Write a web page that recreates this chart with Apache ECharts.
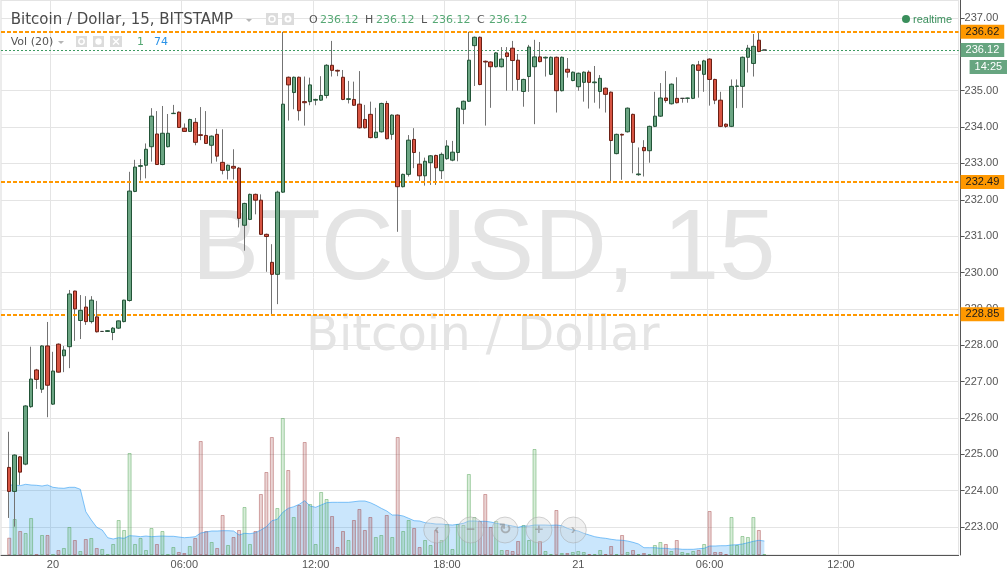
<!DOCTYPE html>
<html><head><meta charset="utf-8">
<script src="https://cdn.jsdelivr.net/npm/echarts@6/dist/echarts.min.js"></script>
<style>html,body{margin:0;padding:0;background:#fff}#c{width:1007px;height:574px}</style>
</head><body><div id="c"></div>
<script>
// 15-minute bars, offsets counted from 20th 00:00
const firstBar = -8;
const axisStart = -9, axisEnd = 165;
const tickBars = [0, 24, 48, 72, 96, 120, 144];
const tickLabels = ['20', '06:00', '12:00', '18:00', '21', '06:00', '12:00'];

const opens = [224.64,223.98,224.93,224.73,226.31,227.32,226.79,227.98,226.38,228.03,
227.71,227.96,229.49,228.68,229.05,228.65,228.78,228.38,228.38,228.35,
228.47,228.65,229.23,232.23,232.92,232.95,233.46,233.81,232.97,233.46,
234.37,234.41,233.97,233.88,234.13,233.79,233.77,233.50,233.80,233.03,
232.81,232.92,232.87,231.30,231.46,232.15,231.99,231.05,230.28,229.95,
232.21,235.37,234.95,235.37,234.70,234.70,234.74,234.74,234.87,235.70,
235.56,235.37,234.76,234.76,234.63,234.21,234.35,233.71,233.87,234.65,
233.80,234.33,232.36,232.70,233.66,232.98,232.66,233.02,233.22,232.80,
233.13,233.09,233.30,234.49,234.71,236.24,236.47,235.81,235.79,235.66,
235.66,236.04,236.17,235.84,234.98,235.39,235.66,235.93,235.90,235.45,
235.92,235.00,235.59,235.28,235.11,235.23,235.51,235.22,234.98,235.07,
234.96,233.27,233.80,233.87,234.35,232.69,233.44,233.35,234.02,234.30,
234.80,234.64,234.79,234.79,234.79,234.79,235.71,235.45,235.87,235.31,
234.74,234.08,234.02,235.12,235.12,235.92,235.75,236.39,236.12];
const highs = [225.62,225.00,224.95,226.35,227.96,227.35,228.00,228.64,227.82,228.05,
227.98,229.52,229.50,229.38,229.35,229.35,229.22,228.39,228.41,228.50,
228.68,229.25,232.77,233.10,233.12,233.55,234.52,234.44,234.58,234.36,
234.61,234.43,234.10,234.23,234.25,234.55,234.44,233.77,233.95,233.94,
232.97,233.39,232.90,231.92,232.17,232.17,232.15,231.07,230.78,232.25,
236.62,235.39,235.39,235.39,235.39,235.36,234.78,235.40,235.73,236.37,
235.58,235.57,235.27,235.25,235.54,234.61,234.70,234.53,234.67,234.72,
234.35,234.35,232.72,233.78,233.97,233.32,233.16,233.23,233.24,233.30,
233.64,233.62,234.54,234.73,236.62,236.49,236.49,235.83,235.81,236.06,
236.20,236.20,236.37,236.01,235.33,236.26,236.40,236.34,235.94,235.94,
235.94,235.94,235.90,235.53,235.50,235.53,235.56,235.68,235.43,235.09,
234.98,233.82,233.82,234.54,234.37,233.44,233.64,234.04,234.97,235.21,
235.54,235.20,235.37,234.80,234.81,235.73,235.82,235.85,235.89,235.33,
234.97,234.10,235.31,235.31,235.94,236.26,236.56,236.62,236.12];
const lows = [223.25,223.01,224.16,224.70,226.28,226.80,226.69,226.02,226.36,227.25,
227.26,227.37,228.12,228.17,228.56,228.60,228.35,228.37,228.37,228.14,
228.45,228.63,229.20,232.21,232.53,232.59,233.05,232.96,232.95,233.44,
234.36,233.98,233.87,233.87,233.50,233.64,233.54,233.00,233.05,232.70,
232.56,232.56,231.24,230.60,231.44,231.60,231.03,230.02,228.86,229.13,
232.19,234.18,234.49,234.18,234.04,234.60,234.60,234.72,234.79,235.39,
235.40,234.74,234.65,234.58,233.96,233.96,233.69,233.69,233.85,233.66,
233.65,231.12,232.34,232.64,232.87,232.52,232.39,232.41,232.41,232.57,
233.10,233.06,233.06,234.08,234.69,235.13,235.15,234.04,234.53,235.64,
235.64,235.00,235.00,235.00,234.56,234.97,234.08,235.78,235.39,235.43,
234.40,234.98,235.36,235.26,235.00,234.70,234.51,234.67,234.51,234.40,
232.47,233.25,232.55,233.85,232.73,232.66,232.64,233.02,234.00,234.28,
234.67,234.62,234.65,234.67,234.67,234.77,234.81,234.97,234.59,234.63,
234.00,233.98,234.00,234.52,234.53,235.50,235.39,236.06,236.12];
const closes = [223.98,224.98,224.51,226.33,227.07,227.06,227.98,226.90,227.29,227.26,
227.87,229.41,229.00,228.96,228.65,229.24,228.37,228.38,228.40,228.47,
228.67,229.24,232.24,232.90,232.94,233.39,234.30,232.97,233.83,233.83,
234.38,233.99,233.88,234.21,233.58,233.77,233.55,233.75,233.20,232.81,
232.95,232.87,231.49,231.90,232.15,231.99,231.05,230.99,229.95,232.21,
234.63,235.16,235.37,234.45,234.67,235.16,234.76,234.87,235.70,235.56,
235.54,234.76,234.78,234.60,233.98,233.98,233.71,233.86,234.65,233.68,
234.33,232.36,232.70,233.64,233.30,232.66,233.06,233.21,232.88,233.25,
233.48,233.31,234.52,234.71,235.84,236.47,235.17,235.79,235.66,236.04,
235.87,235.94,235.83,235.31,235.31,236.20,235.93,235.80,235.92,235.92,
235.00,235.92,235.51,235.51,235.48,235.51,235.23,235.24,235.34,234.90,
233.63,233.80,233.78,234.52,233.58,232.71,233.35,234.02,234.30,234.80,
234.73,235.18,234.67,234.79,234.80,235.71,235.56,235.82,235.31,234.74,
234.02,234.02,235.12,235.13,235.92,236.17,236.22,236.08,236.12];
// volume in relative units
const volumes = [17.3,36,24,22,37,0.7,20,20,0.5,5,
7,28,15,4,16,17,7,6,0.7,11,
35,25,102,11,17,5,27,11,24,0.7,
8,3,2,9,17,114,24,13,7,40,
10,18,25,48,11,24,61,83,118,47,
137,85,38,50,113,51,11,63,56,39,
8,24,15,35,46,25,38,18,20,40,
18,118,24,35,27,8,15,10,25,15,
31,6,31,30,81,38,34,61,28,34,
5,5,4,14,30,15,106,14,4,1,
45,2,2,3,4,3,1,1,5,1,
9,1,20,3,5,1,2,1,10,13,
11,4,15,3,2,4,5,11,44,3,
3,1,38,10,19,18,38,25,1];
const volumeMA = [70,70,69.3,70.7,70,69.7,69,70,67.7,67,
66.7,67.7,67.7,65.7,43.3,35,27.7,25,17.3,16,
17.3,16.7,19.3,19,18.3,19,18.3,18.7,19,18.7,
18.7,18,17.3,17.7,18.3,22,23,24,24,24.3,
24.3,24,20,21.7,21.3,22.3,25,28.3,34.3,35.7,
42.7,46.7,48.3,50.7,54.3,49,47.7,50,52.3,52.7,
52.7,52.7,52.7,53.3,54,54,52.3,49.7,46.7,44,
40,40,39,36.7,34.3,34,32.3,31.7,31,31,
30.3,30,30.7,31.7,34,34,33.7,33.7,33,31.7,
30.7,30,29,27.7,29,29,30,30,30,29.7,
30,29.3,26.7,25,24,21.7,20,18.3,17.3,16.7,
15.7,15,14.7,14,12.7,11,7.3,7.3,7.3,6.7,
6.7,6,6.3,5.7,5.7,5.7,6.3,6.7,9,9,
9.3,9.3,10,10.3,11,12.3,13.7,14.7,14];
const levels = [236.62, 232.49, 228.85];
const lastPrice = 236.12;
const countdown = '14:25';
const priceMin = 222.231, priceMax = 237.495;
const volMax = 555;

const FA = '"Liberation Sans", Arial, sans-serif';
const FD = '"DejaVu Sans", Verdana, sans-serif';
const UP = '#6ba583', UPB = '#225437', DN = '#d75442', DNB = '#6b1f14';
const GREEN = '#56a874';

const categories = [];
for (let k = axisStart; k <= axisEnd; k++) categories.push(String(k));
const pos = k => k - axisStart;
const tickIdx = new Set(tickBars.map(pos));
const isTick = idx => tickIdx.has(idx);

const wickData = [], bodyData = [], volData = [], maData = [];
for (let i = 0; i < opens.length; i++) {
  const x = pos(firstBar + i), o = opens[i], c = closes[i];
  wickData.push([x, o, c, lows[i], highs[i]]);
  bodyData.push([x, o, c, Math.min(o, c), Math.max(o, c)]);
  const up = c >= o;
  volData.push({ value: [x, volumes[i]], itemStyle: {
    color: up ? 'rgba(76,175,80,0.22)' : 'rgba(160,60,60,0.22)',
    borderColor: up ? 'rgba(76,160,80,0.45)' : 'rgba(160,60,60,0.42)', borderWidth: 1 } });
  maData.push([x, volumeMA[i]]);
}

const orangeLabel = { show: true, position: 'end', distance: 2, formatter: p => p.value.toFixed(2),
  backgroundColor: '#ff9800', color: '#1a1a1a', fontFamily: FA, fontSize: 11, padding: [2, 5, 1, 5] };
const greenLine = { color: '#3d9a62', type: [2, 2], width: 1 };

const option = {
  animation: false,
  backgroundColor: '#fff',
  grid: { left: 1, top: 0, width: 957.6, height: 555, show: true, borderColor: '#d9d9d9', borderWidth: 1 },
  xAxis: {
    type: 'category', data: categories, boundaryGap: true,
    axisLine: { show: true, lineStyle: { color: '#555', width: 1 } },
    axisTick: { show: false },
    axisLabel: { interval: isTick, formatter: v => tickLabels[tickBars.indexOf(Number(v))] || '',
      color: '#555', fontFamily: FA, fontSize: 11, margin: 4 },
    splitLine: { show: true, interval: isTick, lineStyle: { color: '#e4e4e4', width: 1 } }
  },
  yAxis: [{
    type: 'value', position: 'right', offset: 2, min: priceMin, max: priceMax, splitNumber: 15, scale: true,
    axisLine: { show: true, lineStyle: { color: '#555' } },
    axisTick: { show: true, length: 4, lineStyle: { color: '#555' } },
    axisLabel: { color: '#555', fontFamily: FA, fontSize: 11, margin: 4, formatter: v => v.toFixed(2),
      showMinLabel: false, showMaxLabel: false },
    splitLine: { show: true, lineStyle: { color: '#e4e4e4' } }
  }, {
    type: 'value', min: 0, max: volMax, show: false, splitLine: { show: false }
  }],
  series: [
    { type: 'line', yAxisIndex: 1, data: maData, symbol: 'none', z: 1,
      lineStyle: { color: 'rgba(33,150,243,0.55)', width: 1 },
      areaStyle: { color: 'rgba(33,150,243,0.34)' } },
    { type: 'bar', yAxisIndex: 1, data: volData, barWidth: 4, z: 1 },
    { type: 'candlestick', data: wickData, encode: { x: 0, y: [1, 2, 3, 4] }, barWidth: 1, z: 3,
      itemStyle: { color: '#737373', color0: '#737373', borderColor: '#737373', borderColor0: '#737373', borderColorDoji: '#737373', borderWidth: 1 },
      markLine: { symbol: ['none', 'none'], silent: true, animation: false, z: 4,
        data: [
          ...levels.map(v => ({ yAxis: v, lineStyle: { color: '#ff9800', type: [4, 2], width: 2 }, label: orangeLabel })),
          { yAxis: lastPrice, lineStyle: greenLine, label: { show: true, position: 'end', distance: 2,
            formatter: lastPrice.toFixed(2), backgroundColor: '#67a580', color: '#fff', fontFamily: FA, fontSize: 11, padding: [2, 5, 1, 5] } },
          { yAxis: lastPrice, lineStyle: greenLine, label: { show: true, position: 'end', distance: 2, offset: [9, 17],
            formatter: countdown, backgroundColor: '#67a580', color: '#fff', fontFamily: FA, fontSize: 11, padding: [2, 5, 1, 5] } }
        ] } },
    { type: 'candlestick', data: bodyData, encode: { x: 0, y: [1, 2, 3, 4] }, barWidth: 4, z: 5,
      itemStyle: { color: UP, color0: DN, borderColor: UPB, borderColor0: DNB, borderColorDoji: '#3a3a3a', borderWidth: 1 } }
  ],
  graphic: [
    { type: 'text', z: -10, x: 191.7, y: 251, silent: true,
      style: { text: 'BTCUSD, 15', font: '101px ' + FA, fill: '#e4e4e4', textAlign: 'left', textVerticalAlign: 'middle' } },
    { type: 'text', z: -10, x: 482.7, y: 338, silent: true,
      style: { text: 'Bitcoin / Dollar', font: '48px ' + FD, fill: '#e4e4e4', textAlign: 'center', textVerticalAlign: 'middle' } },
    { type: 'text', z: 100, x: 10.7, y: 20, style: { text: 'Bitcoin / Dollar, 15, BITSTAMP', font: '15px ' + FD, fill: '#4a4a4a', textVerticalAlign: 'middle' } },
    { type: 'polygon', z: 100, shape: { points: [[246, 19], [252, 19], [249, 22]] }, style: { fill: '#b5b5b5' } },
    { type: 'rect', z: 100, shape: { x: 266, y: 13, width: 12, height: 12 }, style: { fill: '#dcdcdc' } },
    { type: 'circle', z: 101, shape: { cx: 272, cy: 19, r: 3 }, style: { fill: 'none', stroke: '#fff', lineWidth: 1.5 } },
    { type: 'rect', z: 100, shape: { x: 282, y: 13, width: 12, height: 12 }, style: { fill: '#dcdcdc' } },
    { type: 'circle', z: 101, shape: { cx: 288, cy: 19, r: 3.5 }, style: { fill: '#fff' } },
    { type: 'circle', z: 102, shape: { cx: 288, cy: 19, r: 1.5 }, style: { fill: '#dcdcdc' } },
    { type: 'text', z: 100, x: 309, y: 20, style: { text: 'O', font: '11px ' + FD, fill: '#555', textVerticalAlign: 'middle' } },
    { type: 'text', z: 100, x: 320, y: 20, style: { text: '236.12', font: '11px ' + FD, fill: GREEN, textVerticalAlign: 'middle' } },
    { type: 'text', z: 100, x: 365, y: 20, style: { text: 'H', font: '11px ' + FD, fill: '#555', textVerticalAlign: 'middle' } },
    { type: 'text', z: 100, x: 376, y: 20, style: { text: '236.12', font: '11px ' + FD, fill: GREEN, textVerticalAlign: 'middle' } },
    { type: 'text', z: 100, x: 421, y: 20, style: { text: 'L', font: '11px ' + FD, fill: '#555', textVerticalAlign: 'middle' } },
    { type: 'text', z: 100, x: 432, y: 20, style: { text: '236.12', font: '11px ' + FD, fill: GREEN, textVerticalAlign: 'middle' } },
    { type: 'text', z: 100, x: 477, y: 20, style: { text: 'C', font: '11px ' + FD, fill: '#555', textVerticalAlign: 'middle' } },
    { type: 'text', z: 100, x: 489, y: 20, style: { text: '236.12', font: '11px ' + FD, fill: GREEN, textVerticalAlign: 'middle' } },
    { type: 'text', z: 100, x: 10.7, y: 42, style: { text: 'Vol (20)', font: '11px ' + FD, fill: '#555', textVerticalAlign: 'middle' } },
    { type: 'polygon', z: 100, shape: { points: [[58, 41], [64, 41], [61, 44]] }, style: { fill: '#b5b5b5' } },
    { type: 'rect', z: 100, shape: { x: 76, y: 36, width: 11, height: 11 }, style: { fill: '#dcdcdc' } },
    { type: 'circle', z: 101, shape: { cx: 81.5, cy: 41.5, r: 2.7 }, style: { fill: 'none', stroke: '#fff', lineWidth: 1.5 } },
    { type: 'rect', z: 100, shape: { x: 93, y: 36, width: 11, height: 11 }, style: { fill: '#dcdcdc' } },
    { type: 'circle', z: 101, shape: { cx: 98.5, cy: 41.5, r: 3.2 }, style: { fill: '#fff' } },
    { type: 'rect', z: 100, shape: { x: 110, y: 36, width: 12, height: 11 }, style: { fill: '#dcdcdc' } },
    { type: 'polyline', z: 101, shape: { points: [[113, 38.5], [119, 44.5]] }, style: { stroke: '#fff', lineWidth: 1.5 } },
    { type: 'polyline', z: 101, shape: { points: [[119, 38.5], [113, 44.5]] }, style: { stroke: '#fff', lineWidth: 1.5 } },
    { type: 'text', z: 100, x: 137, y: 42, style: { text: '1', font: '11px ' + FD, fill: GREEN, textVerticalAlign: 'middle' } },
    { type: 'text', z: 100, x: 154, y: 42, style: { text: '74', font: '11px ' + FD, fill: '#2a93e8', textVerticalAlign: 'middle' } },
    { type: 'circle', z: 100, shape: { cx: 906, cy: 19, r: 4 }, style: { fill: '#3a8f5c' } },
    { type: 'text', z: 100, x: 913, y: 19.5, style: { text: 'realtime', font: '11px ' + FA, fill: '#3a8f5c', textVerticalAlign: 'middle' } },
    ...[['\u2039', 436.7], ['\u2212', 470.7], ['\u21bb', 505], ['+', 539], ['\u203a', 573.3]].flatMap(([s, cx]) => [
      { type: 'circle', z: 100, shape: { cx: cx, cy: 530, r: 13 }, style: { fill: 'rgba(215,215,215,0.35)', stroke: 'rgba(160,160,160,0.45)', lineWidth: 1 } },
      { type: 'text', z: 101, x: cx, y: 530, style: { text: s, font: 'bold 15px ' + FA, fill: 'rgba(140,140,140,0.6)', textAlign: 'center', textVerticalAlign: 'middle' } }
    ])
  ]
};
const chart = echarts.init(document.getElementById('c'));
chart.setOption(option);
</script></body></html>
